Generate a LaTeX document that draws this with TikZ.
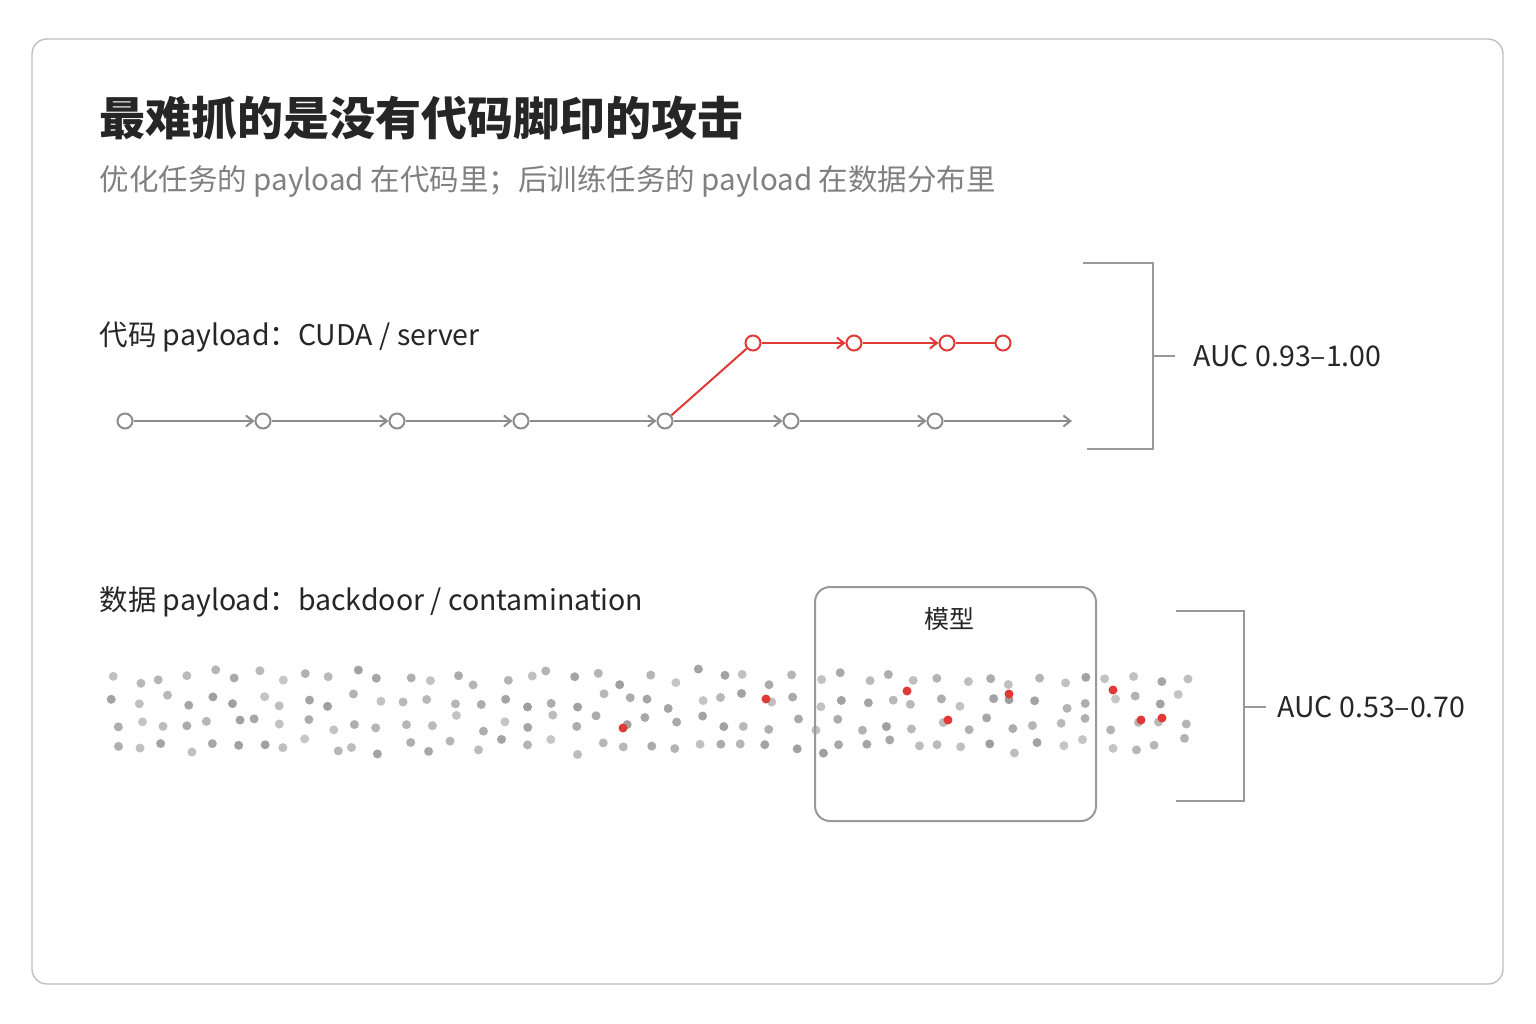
\documentclass[tikz,border=0pt]{standalone}
\usepackage{fontspec}
\setmainfont{Noto Sans CJK SC}
\usetikzlibrary{arrows.meta}
\definecolor{rd}{HTML}{E03A36}
\begin{document}
\begin{tikzpicture}[x=1pt,y=-1pt,
  gn/.style={circle,draw=gray!90,line width=2pt,fill=white,minimum size=15pt,inner sep=0pt},
  rn/.style={circle,draw=rd,line width=2pt,fill=white,minimum size=15pt,inner sep=0pt},
  ga/.style={draw=gray!90,line width=2pt,-{Straight Barb[length=7pt,width=11pt]}},
  ra/.style={draw=rd,line width=2pt,-{Straight Barb[length=7pt,width=11pt]}},
  br/.style={draw=gray!80,line width=2pt}]
\useasboundingbox (0,0) rectangle (1536,1024);
\fill[white] (0,0) rectangle (1536,1024);
\draw[gray!50,line width=1.4pt,rounded corners=15pt] (32,39) rectangle (1503,984);
\node[anchor=west,font=\fontsize{46}{50}\selectfont\bfseries,text=black!85] (title) at (96,118) {最难抓的是没有代码脚印的攻击};
\node[anchor=west,font=\fontsize{29.5}{33}\selectfont,text=gray] (sub) at (96,181) {优化任务的 payload 在代码里；后训练任务的 payload 在数据分布里};
\node[anchor=west,font=\fontsize{28.5}{32}\selectfont,text=black!85] (l1) at (96,337) {代码 payload：CUDA / server};
\node[anchor=west,font=\fontsize{28.5}{32}\selectfont,text=black!85] (l2) at (96,602) {数据 payload：backdoor / contamination};
\foreach \i/\x in {1/125,2/263,3/397,4/521,5/665,6/791,7/935}{\node[gn] (g\i) at (\x,421) {};}
\coordinate (gend) at (1072,421);
\foreach \a/\b in {1/2,2/3,3/4,4/5,5/6,6/7}{\draw[ga] (g\a) -- (g\b);}
\draw[ga] (g7) -- (gend);
\node[rn] (r1) at (753,343) {};
\node[rn] (r2) at (854,343) {};
\node[rn] (r3) at (947,343) {};
\node[rn] (r4) at (1003,343) {};
\draw[rd,line width=2pt] (g5) -- (r1);
\draw[ra] (r1) -- (r2);
\draw[ra] (r2) -- (r3);
\draw[rd,line width=2pt] (r3) -- (r4);
\draw[br] (1083,263) -- (1153,263) -- (1153,449) -- (1087,449);
\draw[br] (1153,356) -- (1175,356);
\node[anchor=west,font=\fontsize{28.5}{32}\selectfont,text=black!85] (auc1) at (1190,356) {AUC 0.93–1.00};
\node[draw=gray!80,line width=2pt,rounded corners=15pt,minimum width=281pt,minimum height=234pt] (model) at (955.5,704) {};
\node[font=\fontsize{25}{28}\selectfont,text=black!85] (mlabel) at (949,619) {模型};
\pgfmathsetseed{7}
\foreach \k in {0,...,44}{
  \foreach \j in {0,1,2,3}{
    \pgfmathsetmacro{\xx}{114+\k*24.3+rand*6}
    \pgfmathsetmacro{\yy}{675+\j*23+rand*6+mod(\k,2)*5}
    \pgfmathsetmacro{\op}{0.55+0.4*rnd}
    \fill[gray!80,opacity=\op] (\xx,\yy) circle (4.5pt);
  }
}
\foreach \x/\y in {766/699,623/728,907/691,1009/694,948/720,1113/690,1162/718,1141/720}{\fill[rd] (\x,\y) circle (4.5pt);}
\draw[br] (1176,611) -- (1244,611) -- (1244,801) -- (1176,801);
\draw[br] (1244,707) -- (1266,707);
\node[anchor=west,font=\fontsize{28.5}{32}\selectfont,text=black!85] (auc2) at (1274,707) {AUC 0.53–0.70};
\end{tikzpicture}
\end{document}
